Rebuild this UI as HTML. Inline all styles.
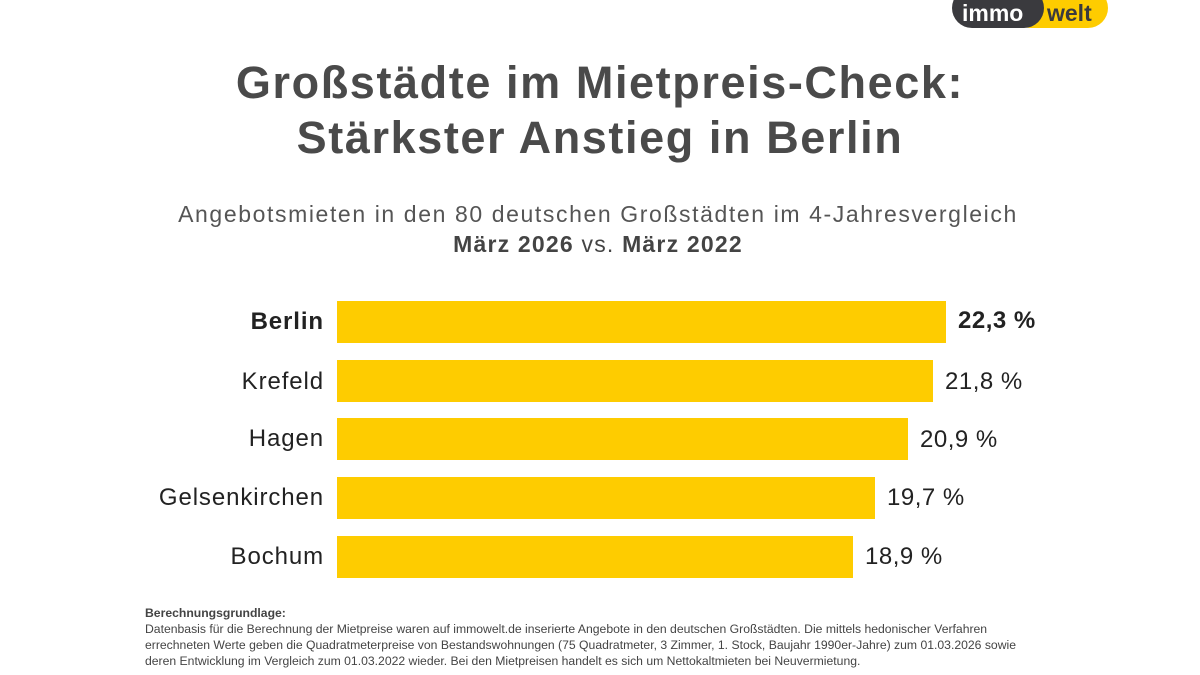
<!DOCTYPE html>
<html><head><meta charset="utf-8"><style>
body{margin:0;width:1200px;height:675px;background:#fff;font-family:"Liberation Sans",sans-serif;position:relative;overflow:hidden}
.a{position:absolute}
.t{left:0;width:1200px;text-align:center;font-weight:bold;font-size:45px;color:#4a4a4a;letter-spacing:1.6px}
.bar{position:absolute;left:337px;height:42px;background:#fecc00}
.lab{position:absolute;right:876px;font-size:24px;color:#222;line-height:42px;letter-spacing:0.9px}
.val{position:absolute;font-size:24px;color:#222;line-height:42px;letter-spacing:0.5px}
.fn{left:145px;font-size:12.2px;color:#444;line-height:16px}
</style></head><body>
<div class="a" style="left:1010px;top:-12px;width:98px;height:40px;border-radius:20px;background:#fecc00"></div>
<div class="a" style="left:952px;top:-12px;width:92px;height:40px;border-radius:20px;background:#3a3a3e"></div>
<div class="a" style="left:962px;top:0px;font-size:23px;font-weight:bold;color:#fff">immo</div>
<div class="a" style="left:1047px;top:0px;font-size:23px;font-weight:bold;color:#3a3a3e">welt</div>
<div class="a t" style="top:57px">Großstädte im Mietpreis-Check:</div>
<div class="a t" style="top:112px">Stärkster Anstieg in Berlin</div>
<div class="a" style="left:0;width:1196px;text-align:center;top:201px;font-size:23px;color:#555;letter-spacing:1.6px">Angebotsmieten in den 80 deutschen Großstädten im 4-Jahresvergleich</div>
<div class="a" style="left:0;width:1196px;text-align:center;top:231px;font-size:23px;color:#444;letter-spacing:1.2px"><b>März 2026</b> vs. <b>März 2022</b></div>
<div class="bar" style="top:301px;width:609px"></div>
<div class="lab" style="top:301px;font-weight:bold">Berlin</div>
<div class="val" style="top:300px;left:958px;font-weight:bold">22,3 %</div>
<div class="bar" style="top:360px;width:596px"></div>
<div class="lab" style="top:361px">Krefeld</div>
<div class="val" style="top:361px;left:945px">21,8 %</div>
<div class="bar" style="top:418px;width:571px"></div>
<div class="lab" style="top:418px">Hagen</div>
<div class="val" style="top:419px;left:920px">20,9 %</div>
<div class="bar" style="top:477px;width:538px"></div>
<div class="lab" style="top:477px">Gelsenkirchen</div>
<div class="val" style="top:477px;left:887px">19,7 %</div>
<div class="bar" style="top:536px;width:516px"></div>
<div class="lab" style="top:536px">Bochum</div>
<div class="val" style="top:536px;left:865px">18,9 %</div>
<div class="a fn" style="top:605px"><b>Berechnungsgrundlage:</b><br>Datenbasis für die Berechnung der Mietpreise waren auf immowelt.de inserierte Angebote in den deutschen Großstädten. Die mittels hedonischer Verfahren<br>errechneten Werte geben die Quadratmeterpreise von Bestandswohnungen (75 Quadratmeter, 3 Zimmer, 1. Stock, Baujahr 1990er-Jahre) zum 01.03.2026 sowie<br>deren Entwicklung im Vergleich zum 01.03.2022 wieder. Bei den Mietpreisen handelt es sich um Nettokaltmieten bei Neuvermietung.</div>
</body></html>
